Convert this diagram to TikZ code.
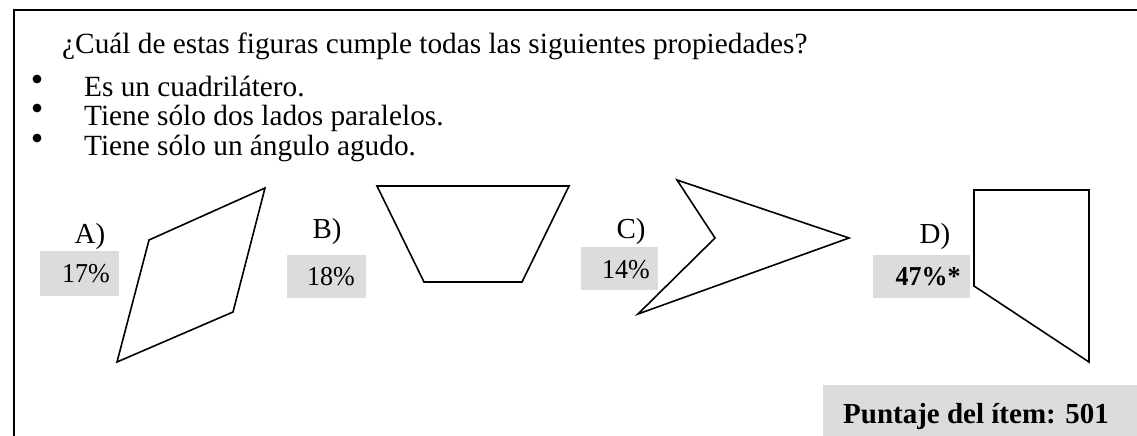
\documentclass[tikz,border=0pt]{standalone}
\usepackage{fontspec}
\setmainfont{Liberation Serif}
\definecolor{boxgray}{RGB}{220,220,220}
\begin{document}
\begin{tikzpicture}[x=1pt,y=-1pt,
  body/.style={inner sep=0pt,anchor=base west,font=\fontsize{29.3}{32}\selectfont},
  lbl/.style={inner sep=0pt,font=\fontsize{29}{32}\selectfont},
  pct/.style={inner sep=0pt,font=\fontsize{26}{30}\selectfont,yscale=1.05},
  pbox/.style={fill=boxgray,inner sep=0pt,draw=none},
  fig/.style={line width=1.6pt,line join=miter},
  frame/.style={line width=2pt}]
\useasboundingbox (0,0) rectangle (1137,436);
% frame
\coordinate (fl) at (14,436);
\coordinate (ftl) at (14,10);
\coordinate (fr) at (1137,10);
\draw[frame] (fl) -- (ftl) -- (fr);
% question
\node[body] (q) at (62,54) {¿Cuál de estas figuras cumple todas las siguientes propiedades?};
\node[body] (p1) at (84,96) {Es un cuadrilátero.};
\node[body] (p2) at (84,125) {Tiene sólo dos lados paralelos.};
\node[body] (p3) at (84,155) {Tiene sólo un ángulo agudo.};
\fill (37,79) circle (4.4);
\fill (37,108) circle (4.4);
\fill (37,138) circle (4.4);
% A
\node[lbl] (la) at (90,237) {A)};
\node[pbox,minimum width=79pt,minimum height=45pt] (ba) at (79.5,273.5) {};
\node[pct] (ta) at (86,274) {17\%};
\draw[fig] (149,240) -- (265,188) -- (233,312) -- (117,362) -- cycle;
% B
\node[lbl] (lb) at (327,232) {B)};
\node[pbox,minimum width=79pt,minimum height=43pt] (bb) at (326.5,276.5) {};
\node[pct] (tb) at (331,277) {18\%};
\draw[fig] (377,186) -- (569,186) -- (522,282) -- (424,282) -- cycle;
% C
\node[lbl] (lc) at (631,232) {C)};
\node[pbox,minimum width=77pt,minimum height=43pt] (bc) at (619.5,268.5) {};
\node[pct] (tc) at (626,270) {14\%};
\draw[fig] (677,180) -- (849,238) -- (638,314) -- (715,238) -- cycle;
% D
\node[lbl] (ld) at (935,237) {D)};
\node[pbox,minimum width=97pt,minimum height=43pt] (bd) at (921.5,276.5) {};
\node[pct,font=\fontsize{26}{30}\selectfont\bfseries] (td) at (928,277) {47\%*};
\draw[fig] (974,190) -- (1089,190) -- (1089,362) -- (974,286) -- cycle;
% score
\node[pbox,minimum width=314pt,minimum height=51pt] (bs) at (980,410.5) {};
\node[inner sep=0pt,anchor=base west,font=\fontsize{29}{32}\selectfont\bfseries] (ts) at (843,423) {Puntaje del ítem: 501};
\end{tikzpicture}
\end{document}
